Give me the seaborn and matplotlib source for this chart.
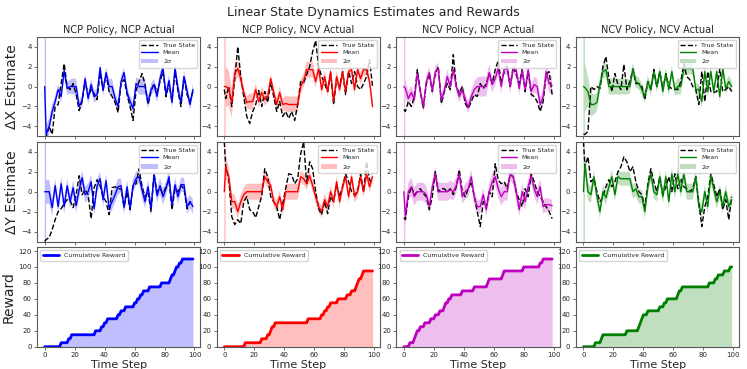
import numpy as np
import matplotlib
matplotlib.use("Agg")
import matplotlib.pyplot as plt
import seaborn as sns

# ---------------- data ----------------
TIME_EST = [0] + list(range(1, 100, 2))   # time steps of the estimate series
TIME_REW = list(range(0, 100))            # time steps of the reward series

TITLES = ["NCP Policy, NCP Actual", "NCP Policy, NCV Actual",
          "NCV Policy, NCP Actual", "NCV Policy, NCV Actual"]
COLORS = ["b", "r", "m", "g"]
ROW_LABELS = ["\u0394X Estimate", "\u0394Y Estimate", "Reward"]

# ---- Delta X ----
x_mean_1 = [0, -4.8, -4.0, -2.5, -1.5, -0.3, -1.0, 1.6, -0.2, 0.0, 0.0, 0.0, -2.0, -1.4, 0.8, -1.2, 0.2, -1.0, -0.8, 1.9, -0.4, 1.4, 0.0, 0.0, -1.2, -2.0, 0.5, 1.4, -0.6, -1.5, -2.2, 0.3, 0.0, 0.0, 0.0, -1.6, -0.3, 0.2, -1.0, 0.8, 1.9, -0.8, 0.6, -1.6, 1.9, -0.2, -1.6, 1.0, -0.4, -1.8, -0.3]
x_true_1 = [-5.2, -5.0, -4.0, -4.8, -2.0, -1.8, 0.3, 2.3, 0.0, -0.3, 0.3, -0.8, -2.4, -1.5, 0.6, -1.0, -0.3, -0.7, -1.3, 1.4, -0.3, 1.2, -0.5, -1.0, -1.6, -2.6, 0.4, 0.7, -0.8, -2.0, -3.4, -0.4, 0.5, 1.3, 0.2, -1.8, -0.5, 0.3, -0.6, 0.5, 1.5, -1.0, 0.3, -1.5, 1.5, -0.5, -2.0, 1.0, -0.8, -1.5, -0.5]
x_sig_1 = [100, 0.9, 0.8, 0.7, 0.6, 0.5, 0.6, 0.5, 0.6, 0.7, 0.8, 0.8, 0.6, 0.6, 0.5, 0.6, 0.6, 0.6, 0.6, 0.5, 0.6, 0.5, 0.8, 0.8, 0.6, 0.6, 0.6, 0.5, 0.6, 0.6, 0.6, 0.6, 0.8, 0.8, 0.8, 0.6, 0.6, 0.6, 0.6, 0.6, 0.5, 0.6, 0.6, 0.6, 0.5, 0.6, 0.6, 0.6, 0.6, 0.6, 0.6]

x_mean_2 = [0, 0, -0.2, -1.6, 1.3, 1.8, 0.8, -0.6, -1.6, -1.5, -1.5, -0.3, -1.5, -0.6, -1.3, -1.0, 0.8, -0.6, -1.8, -0.6, -1.8, -1.7, -1.8, -1.8, -1.8, -1.8, 0.0, 0.6, 1.7, 1.7, 1.7, 0.5, 1.8, -0.3, 1.0, -0.5, 1.5, -1.5, 1.0, -0.3, 1.5, -0.5, 1.5, 1.7, -0.3, 1.7, 0.8, 1.7, 1.7, 0.5, -2.0]
x_true_2 = [-0.3, -1.2, 0.0, -2.0, 0.8, 4.0, 1.0, -1.0, -3.0, -3.7, -2.5, -1.8, -0.4, -2.0, -0.5, -1.6, 0.4, -1.0, -2.5, -1.5, -3.0, -2.5, -3.2, -2.5, -3.4, -1.8, 0.5, 0.4, 1.2, 2.0, 3.5, 4.6, 2.0, 1.0, 0.3, -0.5, 1.3, -1.8, 0.8, 0.0, 1.5, -0.8, 1.5, 0.3, 1.5, 0.0, -0.3, 0.3, 1.0, 2.7, 0.0]
x_sig_2 = [100, 2.0, 1.8, 1.5, 1.0, 0.8, 0.7, 0.6, 0.6, 0.8, 0.8, 0.6, 0.6, 0.6, 0.6, 0.6, 0.5, 0.6, 0.6, 0.6, 0.6, 0.8, 0.8, 0.8, 0.8, 0.8, 0.7, 0.7, 0.8, 0.8, 0.8, 0.6, 0.6, 0.6, 0.6, 0.6, 0.6, 0.6, 0.6, 0.6, 0.6, 0.6, 0.6, 0.7, 0.6, 0.6, 0.6, 0.6, 0.6, 0.6, 0.6]

x_mean_3 = [0, -0.2, -1.2, -0.6, -1.3, 1.3, -0.5, -2.0, 0.5, 1.4, -0.4, 1.5, 1.8, -1.4, -0.4, 1.0, 0.0, 1.7, 0.0, -1.0, -0.3, -1.3, -2.1, -1.0, -0.3, 0.0, 0.0, 0.0, 0.0, 1.4, 0.2, 0.8, 1.8, 0.0, 1.8, 1.8, 0.0, 1.8, 1.7, -0.2, 1.7, -0.3, 1.7, -0.5, 0.2, 0.0, -1.8, -1.0, 1.5, 0.3, 0.1]
x_true_3 = [-2.3, -2.5, -1.5, -2.0, -1.0, 1.7, -0.5, -2.2, 0.3, 1.3, -0.5, 1.3, 2.0, -1.7, -0.5, 0.3, -0.3, 3.2, 0.0, -0.7, 0.0, -1.7, -2.2, -1.5, -0.8, -1.0, 0.3, -0.2, 0.3, 1.3, 0.3, 1.7, 2.6, 0.3, 1.5, 2.0, 0.0, 2.0, 1.2, 0.3, 1.7, -0.5, 1.5, -0.8, -1.0, -1.5, -2.5, -1.5, 1.2, 1.5, -0.8]
x_sig_3 = [100, 0.9, 0.8, 0.7, 0.7, 0.6, 0.6, 0.6, 0.6, 0.6, 0.6, 0.6, 0.6, 0.6, 0.6, 0.7, 0.7, 0.6, 0.6, 0.6, 0.6, 0.6, 0.6, 0.6, 0.8, 0.9, 1.0, 1.0, 1.0, 0.8, 0.8, 0.7, 0.6, 0.7, 0.6, 0.6, 0.7, 0.6, 0.6, 0.7, 0.6, 0.7, 0.6, 0.7, 0.8, 0.8, 0.7, 0.8, 0.8, 0.9, 0.9]

x_mean_4 = [0, -0.1, -0.5, -1.8, -1.8, -1.6, 0.2, 1.5, 1.7, 0.0, 0.0, 0.0, 0.0, 0.0, 0.0, 0.0, 0.0, 1.8, 0.5, 0.3, -0.3, -1.0, 0.5, -0.3, 1.5, 0.0, 1.5, -0.5, 1.3, -0.3, 1.5, -0.3, 0.0, 0.0, 1.7, 1.8, 1.8, 1.8, -0.3, -0.3, -1.5, 1.5, -0.5, 1.5, -0.5, 1.5, -1.0, 1.8, -0.2, 0.5, 0.0]
x_true_4 = [-4.8, -4.8, -4.5, 0.0, -0.3, 0.0, -0.2, 2.0, 3.0, 0.8, -0.5, 1.3, 0.2, -0.3, 2.2, -0.3, 0.5, 1.7, 0.3, 0.3, 0.0, -1.3, 0.5, -0.3, 1.7, 0.0, 1.5, -0.3, 1.3, 0.0, -0.2, -0.3, -0.3, 0.5, 2.3, 1.0, 0.7, 0.0, -0.3, -1.8, 1.5, -1.5, 1.5, -0.5, -0.6, -0.5, 1.8, -0.5, -0.3, 0.0, -0.5]
x_sig_4 = [100, 2.5, 1.5, 1.2, 1.0, 0.9, 0.8, 0.7, 0.7, 0.8, 0.8, 0.8, 0.8, 0.8, 0.8, 0.8, 0.7, 0.6, 0.6, 0.6, 0.6, 0.6, 0.6, 0.6, 0.6, 0.6, 0.6, 0.6, 0.6, 0.6, 0.6, 0.6, 0.8, 0.8, 0.6, 0.6, 0.6, 0.6, 0.6, 0.6, 0.6, 0.6, 0.6, 0.6, 0.6, 0.6, 0.6, 0.6, 0.6, 0.6, 0.6]

# ---- Delta Y ----
y_mean_1 = [0, 0, 0, -1.6, 0.6, -1.5, 0.8, -1.5, 0.6, -1.0, 0.4, -1.4, 0.2, 1.4, -0.3, 0.0, 1.0, -1.7, 0.6, 1.3, -0.8, 1.1, -1.7, -1.0, -0.3, 0.5, 0.6, -1.6, 0.5, -1.7, 0.6, 1.3, 1.5, 0.2, -1.0, 0.5, -1.7, 1.7, -0.4, 0.6, -0.5, 0.3, 1.5, -1.4, 0.7, -0.5, 0.7, 0.7, -1.5, -1.0, -1.5]
y_true_1 = [-5.0, -4.8, -4.6, -3.8, -2.8, -2.0, -1.7, -1.2, -0.8, -0.9, -1.6, -0.3, 1.6, -0.3, 0.2, -0.3, -2.7, 0.4, 1.2, 0.6, -0.5, -1.0, -2.3, 0.4, 0.5, 0.3, 0.3, -1.5, 0.0, -1.8, 0.7, 0.8, 2.3, 0.5, -0.5, 0.0, -2.0, 1.8, 0.0, 0.3, -0.2, 0.5, 1.2, -1.8, 0.3, 0.0, 0.6, 0.3, -1.7, -1.0, -1.2]
y_sig_1 = [100, 1.2, 1.2, 0.8, 0.7, 0.7, 0.7, 0.7, 0.7, 0.7, 0.7, 0.7, 0.8, 0.7, 0.8, 0.8, 0.7, 0.7, 0.7, 0.7, 0.7, 0.7, 0.7, 0.8, 0.8, 0.8, 0.7, 0.7, 0.7, 0.7, 0.7, 0.7, 0.7, 0.8, 0.7, 0.7, 0.7, 0.7, 0.7, 0.8, 0.8, 0.7, 0.7, 0.7, 0.7, 0.7, 0.7, 0.7, 0.7, 0.7, 0.7]

y_mean_2 = [0, 2.5, 1.5, -1.0, -1.0, -2.0, -1.0, -0.3, 0.0, 0.0, 0.0, 0.0, 0.0, 0.0, 1.5, 1.0, 0.6, -1.0, -1.5, -0.5, -1.8, 0.0, 0.0, 0.0, 0.0, 0.0, 1.5, 1.3, 0.8, 1.6, 0.6, -0.5, -1.5, -2.0, -0.8, -1.5, 0.0, -1.0, 1.0, -1.0, 0.5, 1.5, -0.5, 1.5, -0.5, 0.0, 1.5, 0.0, 1.8, 0.5, 1.5]
y_true_2 = [5.0, 2.5, 1.3, -2.5, -3.3, -2.8, -3.2, -1.0, -0.5, -1.8, -2.0, -2.6, -1.5, -0.4, 2.3, 1.5, -0.5, -1.0, -1.5, -2.8, -1.2, 0.3, 1.8, 1.7, 0.8, 1.3, 3.8, 5.0, 0.8, 3.0, 2.3, 0.0, -1.7, -2.3, -1.0, -2.2, -0.5, -1.0, 0.8, -0.5, 0.5, 1.8, 1.0, 0.0, -0.3, 0.0, 1.8, 0.0, 3.0, 1.2, 0.8]
y_sig_2 = [100, 1.2, 1.0, 0.8, 0.7, 0.7, 0.7, 0.7, 0.8, 0.8, 0.8, 0.8, 0.8, 0.8, 0.6, 0.6, 0.6, 0.6, 0.6, 0.6, 0.6, 0.8, 0.8, 0.8, 0.8, 0.8, 0.6, 0.6, 0.6, 0.6, 0.6, 0.6, 0.6, 0.6, 0.6, 0.6, 0.6, 0.6, 0.6, 0.6, 0.6, 0.6, 0.6, 0.6, 0.6, 0.6, 0.6, 0.6, 0.6, 0.6, 0.6]

y_mean_3 = [0, -2.5, 0.0, 0.5, -0.5, 0.0, 0.0, 0.0, -0.3, -1.5, 0.5, 1.8, 0.0, 0.0, 0.0, 0.0, 0.2, 0.0, 0.6, 1.8, -0.5, 0.0, 0.3, 1.5, -0.5, -1.5, -1.5, -0.3, -1.8, 0.0, 1.0, 1.5, 0.3, -0.5, 0.0, 0.0, 1.8, 1.5, 0.0, -1.8, 0.0, -1.0, 0.5, 1.6, 0.3, -0.5, 0.5, -1.5, -1.3, -1.3, -1.4]
y_true_3 = [-2.6, -2.8, -0.5, 0.5, -0.3, 0.0, 0.3, -0.2, -0.5, -1.8, -0.5, 2.0, 0.0, 0.3, 0.3, 0.0, 0.3, -0.3, 0.5, 2.2, 0.0, -0.5, 0.3, 1.0, -0.5, -2.0, -3.5, -1.0, -1.5, 0.0, -0.5, 2.8, 1.2, 0.8, 1.0, 0.3, 1.7, 1.5, 0.0, -0.8, -1.5, 0.3, -0.5, 1.8, 1.0, 0.0, -0.5, -1.0, -1.5, -2.0, -2.7]
y_sig_3 = [100, 1.0, 0.9, 0.9, 0.9, 0.9, 0.9, 0.9, 0.9, 0.7, 0.7, 0.7, 0.9, 0.9, 0.9, 0.9, 0.9, 0.9, 0.8, 0.7, 0.7, 0.8, 0.8, 0.7, 0.7, 0.7, 0.7, 0.7, 0.7, 0.8, 0.8, 0.8, 0.9, 0.9, 0.9, 0.9, 0.7, 0.8, 0.9, 0.7, 0.8, 0.8, 0.8, 0.7, 0.8, 0.8, 0.8, 0.7, 0.7, 0.6, 0.6]

y_mean_4 = [0, 2.8, 0.0, -0.3, 1.5, -0.5, -2.0, 0.0, -0.6, 0.5, 1.5, -0.3, 1.5, 1.3, 1.3, 1.3, 1.3, 0.0, 0.3, -0.5, -0.5, -2.0, 0.5, 1.8, 0.0, -0.3, 1.5, -0.5, 1.5, -1.0, 1.8, 0.0, 1.8, 0.0, 1.8, 0.0, 0.0, 0.0, 1.5, -1.5, -2.0, 0.0, -1.5, 1.6, 0.3, -1.0, 0.0, -1.5, 0.0, -1.5, -0.8]
y_true_4 = [5.0, 2.5, 3.5, 1.0, 1.3, 0.0, -1.0, -0.5, 0.5, 1.2, 0.5, 1.0, 2.0, 2.5, 3.5, 3.0, 2.0, 2.5, 1.0, 0.0, -0.3, -1.5, 0.8, 2.3, 1.0, 0.0, 1.5, -0.3, 0.5, 1.5, 0.0, 1.8, 0.3, 1.3, 0.5, 0.3, 0.0, 0.3, 1.5, -1.0, -3.5, -1.5, -0.5, 1.8, 0.7, -0.5, 0.3, -1.8, -0.8, -2.8, -0.5]
y_sig_4 = [100, 1.0, 0.9, 0.8, 0.7, 0.7, 0.7, 0.7, 0.7, 0.7, 0.7, 0.7, 0.7, 0.7, 0.7, 0.7, 0.7, 0.7, 0.7, 0.7, 0.7, 0.7, 0.7, 0.7, 0.7, 0.7, 0.7, 0.7, 0.7, 0.7, 0.7, 0.7, 0.7, 0.7, 0.8, 0.8, 0.8, 0.8, 0.7, 0.7, 0.7, 0.7, 0.7, 0.7, 0.7, 0.7, 0.7, 0.7, 0.7, 0.7, 0.7]

# ---- Rewards: time steps at which a reward of 5 was collected ----
REWARD_SIZE = 5
reward_steps_1 = [11, 16, 18, 34, 38, 40, 42, 49, 51, 54, 60, 62, 64, 66, 70, 78, 84, 85, 87, 88, 90, 92]
reward_steps_2 = [14, 25, 29, 31, 32, 34, 56, 65, 67, 69, 71, 76, 82, 85, 88, 89, 90, 92, 93]
reward_steps_3 = [4, 7, 8, 9, 11, 14, 18, 21, 24, 27, 28, 30, 32, 39, 47, 56, 57, 66, 67, 80, 91, 93]
reward_steps_4 = [8, 12, 13, 29, 37, 38, 39, 40, 43, 51, 54, 56, 63, 64, 66, 84, 88, 90, 94, 98]

X_MEAN = [x_mean_1, x_mean_2, x_mean_3, x_mean_4]
X_TRUE = [x_true_1, x_true_2, x_true_3, x_true_4]
X_SIG = [x_sig_1, x_sig_2, x_sig_3, x_sig_4]
Y_MEAN = [y_mean_1, y_mean_2, y_mean_3, y_mean_4]
Y_TRUE = [y_true_1, y_true_2, y_true_3, y_true_4]
Y_SIG = [y_sig_1, y_sig_2, y_sig_3, y_sig_4]
REWARD_STEPS = [reward_steps_1, reward_steps_2, reward_steps_3, reward_steps_4]

for name, arrs in [("X_MEAN", X_MEAN), ("X_TRUE", X_TRUE), ("X_SIG", X_SIG),
                   ("Y_MEAN", Y_MEAN), ("Y_TRUE", Y_TRUE), ("Y_SIG", Y_SIG)]:
    for k, a in enumerate(arrs):
        assert len(a) == len(TIME_EST), f"{name}[{k}] has {len(a)}"

# ---------------- style ----------------
sns.set_style("ticks")
plt.rcParams["font.family"] = ["DejaVu Sans"]
plt.rcParams["mathtext.fontset"] = "dejavusans"
SPINE = "0.35"

fig, axes = plt.subplots(3, 4, figsize=(7.47, 3.69), dpi=100)
fig.subplots_adjust(left=0.0499, right=0.9895, bottom=0.0604, top=0.9005,
                    wspace=0.101, hspace=0.055)

t_est = np.array(TIME_EST)
t_rew = np.array(TIME_REW)

for col in range(4):
    c = COLORS[col]
    for row, (M, T, S) in enumerate([(X_MEAN, X_TRUE, X_SIG), (Y_MEAN, Y_TRUE, Y_SIG)]):
        ax = axes[row, col]
        m = np.array(M[col]); tr = np.array(T[col]); s = np.array(S[col])
        sns.lineplot(x=t_est, y=tr, color="k", linestyle="--", lw=1.0, ax=ax,
                     label="True State")
        sns.lineplot(x=t_est, y=m, color=c, lw=1.0, ax=ax, label="Mean")
        ax.fill_between(t_est, m - s, m + s, color=c, alpha=0.25, lw=0,
                        label="2$\\sigma$")
        ax.set_ylim(-5, 5)
        ax.set_yticks([-4, -2, 0, 2, 4])
        ax.set_xlim(-4.95, 103.95)
        ax.set_xticks([0, 20, 40, 60, 80, 100])
        ax.set_xticklabels([])
        ax.legend(loc="upper right", fontsize=4.5, handlelength=2.6,
                  borderpad=0.4, labelspacing=0.35, framealpha=0.8,
                  edgecolor="0.8", handletextpad=0.8)
        if col == 0:
            ax.set_ylabel(ROW_LABELS[row], fontsize=10)
        else:
            ax.set_ylabel("")
        ax.set_xlabel("")

    # rewards
    ax = axes[2, col]
    per_step = np.zeros(len(TIME_REW))
    per_step[REWARD_STEPS[col]] = REWARD_SIZE
    cum = np.cumsum(per_step)
    sns.lineplot(x=t_rew, y=cum, color=c, lw=2.0, ax=ax, label="Cumulative Reward")
    ax.fill_between(t_rew, 0, cum, color=c, alpha=0.25, lw=0)
    ax.set_ylim(0, 125)
    ax.set_yticks([0, 20, 40, 60, 80, 100, 120])
    ax.set_xlim(-4.95, 103.95)
    ax.set_xticks([0, 20, 40, 60, 80, 100])
    ax.set_xlabel("Time Step", fontsize=8)
    ax.legend(loc="upper left", fontsize=4.5, handlelength=2.6, borderpad=0.4,
              framealpha=0.8, edgecolor="0.8")
    ax.set_ylabel("Reward" if col == 0 else "", fontsize=10)
    axes[0, col].set_title(TITLES[col], fontsize=7, pad=3)

for ax in axes.flat:
    for sp in ax.spines.values():
        sp.set_color(SPINE)
        sp.set_linewidth(0.8)
    ax.tick_params(labelsize=5, length=2.5, width=0.6, color=SPINE, pad=1.5)
    ax.yaxis.labelpad = 2
    ax.xaxis.labelpad = 1

fig.suptitle("Linear State Dynamics Estimates and Rewards", fontsize=9, y=0.966,
             va="center")
fig.savefig("out.png", dpi=100)
